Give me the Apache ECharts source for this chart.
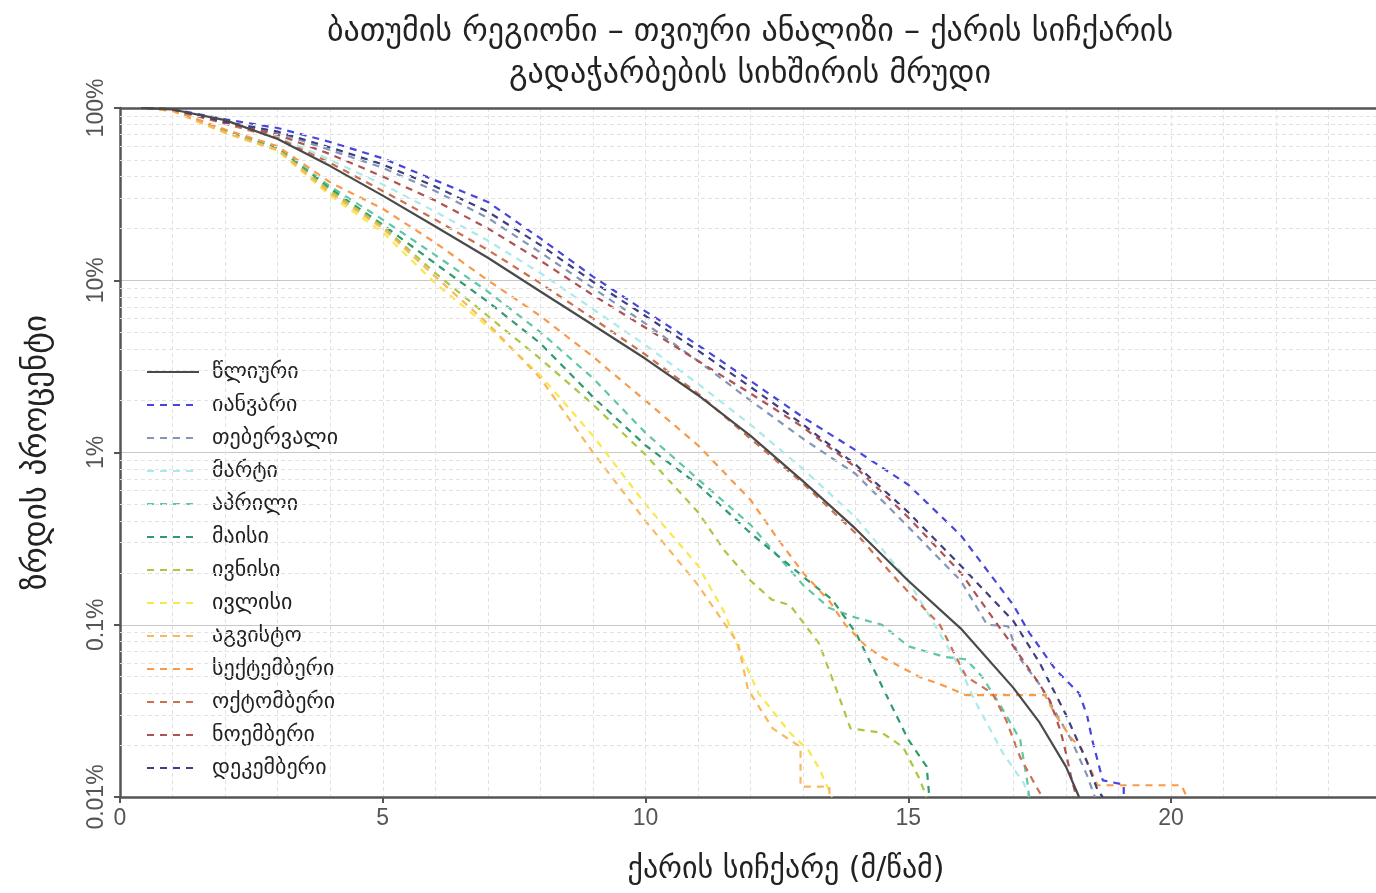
<!DOCTYPE html>
<html>
<head>
<meta charset="utf-8">
<script src="https://cdn.jsdelivr.net/npm/echarts@6/dist/echarts.min.js"></script>
<style>
html,body{margin:0;padding:0;background:#fff;}
#chart{width:1376px;height:893px;}
</style>
</head>
<body>
<div id="chart"></div>
<script>
// ---- data (x = wind speed m/s, y = exceedance %) ----
const titleLines = ['ბათუმის რეგიონი – თვიური ანალიზი – ქარის სიჩქარის', 'გადაჭარბების სიხშირის მრუდი'];
const xName = 'ქარის სიჩქარე (მ/წამ)';
const yName = 'ზრდის პროცენტი';
const seriesNames = ['წლიური','იანვარი','თებერვალი','მარტი','აპრილი','მაისი','ივნისი','ივლისი','აგვისტო','სექტემბერი','ოქტომბერი','ნოემბერი','დეკემბერი'];
const yTickLabels = {100:'100%', 10:'10%', 1:'1%', 0.1:'0.1%', 0.01:'0.01%'};

const annual = [[0.4,100],[1,98],[2,85],[3,66],[4,46],[5,31],[6,20.5],[7,13.5],[8,8.6],[9,5.5],[10,3.5],[11,2.15],[12,1.25],[13,0.68],[14,0.36],[15,0.18],[16,0.095],[17,0.043],[17.5,0.027],[18,0.015],[18.25,0.01]];
const jan = [[0.5,100],[1,98.5],[2,86],[3,76.5],[4,63.5],[5,51],[6,38],[7,28.5],[8,17.5],[9,10.5],[10,6.6],[11,4.2],[12,2.6],[13,1.6],[14,1.03],[15,0.65],[16,0.33],[17,0.13],[17.3,0.09],[17.8,0.055],[18.25,0.04],[18.4,0.03],[18.5,0.0215],[18.7,0.0125],[19.1,0.0118],[19.1,0.01]];
const feb = [[0.5,100],[1,98],[2,83],[3,72],[4,57],[5,45],[6,33],[7,23],[8,14.5],[9,9],[10,5.6],[11,3.4],[12,2.0],[13,1.2],[14,0.75],[15,0.37],[16,0.18],[16.5,0.1],[16.9,0.098],[17.1,0.065],[17.5,0.045],[18.1,0.0215],[18.4,0.0134],[18.55,0.01]];
const mar = [[0.5,100],[1,98],[2,82],[3,68],[4,50],[5,36],[6,25],[7,17],[8,11],[9,6.8],[10,4.2],[11,2.5],[12,1.45],[13,0.8],[14,0.42],[15,0.18],[15.5,0.1],[16,0.055],[16.25,0.037],[16.8,0.018],[17.2,0.012],[17.3,0.01]];
const apr = [[0.5,100],[1,97],[2,74],[3,59],[4,35],[5,22.5],[6,14],[7,8.6],[8,5],[9,2.7],[10,1.3],[11,0.7],[12,0.38],[13,0.17],[13.5,0.125],[14,0.11],[14.5,0.1],[15,0.075],[15.7,0.065],[16.1,0.063],[16.4,0.05],[16.73,0.035],[17.13,0.0215],[17.27,0.012],[17.3,0.01]];
const may = [[0.5,100],[1,97],[2,73],[3,58],[4,34],[5,21],[6,12.5],[7,7.5],[8,4.3],[9,2.1],[10,1.1],[11,0.65],[12,0.34],[13,0.19],[13.55,0.14],[14,0.09],[14.5,0.044],[15,0.0215],[15.35,0.015],[15.4,0.01]];
const jun = [[0.5,100],[1,97],[2,72.5],[3,57.5],[4,33],[5,20.5],[6,11],[7,6.2],[8,3.5],[9,1.9],[10,0.97],[11,0.45],[11.5,0.27],[12,0.18],[12.4,0.14],[12.75,0.13],[13.3,0.078],[13.7,0.037],[13.9,0.025],[14.5,0.0236],[14.9,0.0195],[15.2,0.013],[15.35,0.01]];
const jul = [[0.5,100],[1,96],[2,71.5],[3,56.5],[4,31],[5,19],[6,9.6],[7,5.4],[8,2.8],[9,1.25],[10,0.5],[11,0.22],[11.5,0.118],[11.8,0.069],[12.15,0.04],[12.75,0.0236],[13.1,0.0187],[13.3,0.0147],[13.5,0.0108],[13.55,0.01]];
const aug = [[0.5,100],[1,96],[2,72],[3,57],[4,32],[5,20],[6,10.5],[7,5.6],[8,2.7],[9,1.0],[10,0.4],[11,0.17],[11.76,0.078],[11.95,0.042],[12.42,0.025],[12.95,0.0195],[12.95,0.0115],[13.5,0.0115],[13.5,0.01]];
const sep = [[0.5,100],[1,97],[2,75],[3,60],[4,37],[5,26],[6,16.5],[7,10],[8,6.2],[9,3.6],[10,2.0],[11,1.1],[12,0.53],[12.5,0.32],[13,0.2],[13.5,0.137],[13.8,0.1],[14.2,0.075],[14.5,0.065],[15.2,0.05],[15.7,0.044],[16.1,0.039],[17.6,0.039],[17.8,0.03],[18.1,0.022],[18.3,0.019],[18.6,0.0117],[20.2,0.0117],[20.3,0.01]];
const oct = [[0.5,100],[1,98],[2,81],[3,67],[4,48],[5,33],[6,22.5],[7,15],[8,9.6],[9,6],[10,3.7],[11,2.2],[12,1.2],[13,0.66],[14,0.34],[14.8,0.18],[15.6,0.1],[16.1,0.05],[16.6,0.04],[16.86,0.028],[17.13,0.017],[17.4,0.012],[17.55,0.01]];
const nov = [[0.5,100],[1,98],[2,82],[3,70],[4,54],[5,40],[6,29],[7,20],[8,13],[9,8.2],[10,5.3],[11,3.4],[12,2.2],[13,1.4],[14,0.82],[15,0.42],[16,0.2],[16.7,0.1],[17,0.075],[17.5,0.045],[17.7,0.036],[17.9,0.024],[18,0.018],[18.1,0.013],[18.2,0.01]];
const dec = [[0.5,100],[1,98.5],[2,83],[3,73],[4,59],[5,47],[6,35],[7,25],[8,16],[9,9.8],[10,6.2],[11,3.9],[12,2.4],[13,1.45],[14,0.85],[15,0.45],[16,0.22],[17,0.105],[17.5,0.06],[18,0.03],[18.4,0.016],[18.6,0.011],[18.7,0.01]];

const seriesData = [annual, jan, feb, mar, apr, may, jun, jul, aug, sep, oct, nov, dec];
const colors = ['#4a4a4a','#4646dc','#8296b8','#aaeaea','#60c6a6','#2f9a6c','#a8c840','#f8e84c','#f8b860','#f89a48','#cc7050','#b05252','#3e3e80'];

// minor log grid values (2..9 per decade)
const minorGrid = [];
[0.01,0.1,1,10].forEach(d => { for (let k=2;k<=9;k++) minorGrid.push(+(d*k).toPrecision(3)); });

const FONT = 'DejaVu Sans, sans-serif';
const NUMFONT = 'Liberation Sans Narrow, Liberation Sans, sans-serif';

const series = seriesData.map((d,i) => ({
  name: seriesNames[i],
  type: 'line',
  data: d,
  showSymbol: false,
  symbol: 'none',
  smooth: false,
  z: i === 0 ? 5 : 3,
  lineStyle: { color: colors[i], width: 2.2, type: i === 0 ? 'solid' : [7,6] },
  itemStyle: { color: colors[i] }
}));

// grid decoration lines
series[0].markLine = {
  silent: true, symbol: 'none', label: { show: false }, animation: false,
  data: minorGrid.map(v => ({ yAxis: v, lineStyle: { color: '#e2e2e2', type: [4,3], width: 1 } }))
    .concat([{ yAxis: 100, lineStyle: { color: '#555', type: 'solid', width: 2.5 } }])
};

const chart = echarts.init(document.getElementById('chart'), null, { renderer: 'canvas' });
chart.setOption({
  backgroundColor: '#fff',
  animation: false,
  color: colors,
  title: {
    text: titleLines.join('\n'),
    left: 745, top: 7, textAlign: 'center',
    textStyle: { fontFamily: FONT, fontSize: 32, fontWeight: 'normal', color: '#222', lineHeight: 42 }
  },
  legend: {
    orient: 'vertical', left: 141, top: 356,
    itemWidth: 52, itemHeight: 14, itemGap: 11,
    data: seriesNames,
    itemStyle: { opacity: 0 },
    textStyle: { fontFamily: FONT, fontSize: 22, color: '#222', padding: [0,0,0,8] }
  },
  grid: { left: 120, right: 0, top: 108, bottom: 96, containLabel: false },
  xAxis: {
    type: 'value', min: 0, max: 23.9, interval: 5,
    name: xName, nameLocation: 'middle', nameGap: 58,
    nameTextStyle: { fontFamily: FONT, fontSize: 30, color: '#222', padding: [0,0,0,76] },
    axisLine: { show: true, onZero: false, lineStyle: { color: '#555', width: 2.5 } },
    axisTick: { show: true, length: 6, lineStyle: { color: '#555', width: 2 } },
    axisLabel: { fontFamily: NUMFONT, fontSize: 23, color: '#555', margin: 10, showMaxLabel: false },
    splitLine: { show: true, lineStyle: { color: '#e2e2e2', type: [4,3] } },
    minorTick: { show: false, splitNumber: 5 },
    minorSplitLine: { show: true, lineStyle: { color: '#e2e2e2', type: [4,3] } }
  },
  yAxis: {
    type: 'log', logBase: 10, min: 0.01, max: 100,
    name: yName, nameLocation: 'middle', nameGap: 66, nameRotate: 90,
    nameTextStyle: { fontFamily: FONT, fontSize: 33, color: '#222' },
    axisLine: { show: true, lineStyle: { color: '#555', width: 2.5 } },
    axisTick: { show: true, length: 6, lineStyle: { color: '#555', width: 2 } },
    axisLabel: {
      rotate: 90, fontFamily: NUMFONT, fontSize: 23, color: '#555', margin: 12,
      formatter: v => yTickLabels[v] || ''
    },
    splitLine: { show: true, lineStyle: { color: '#c8c8c8', width: 1.2 } }
  },
  series: series
});
</script>
</body>
</html>
